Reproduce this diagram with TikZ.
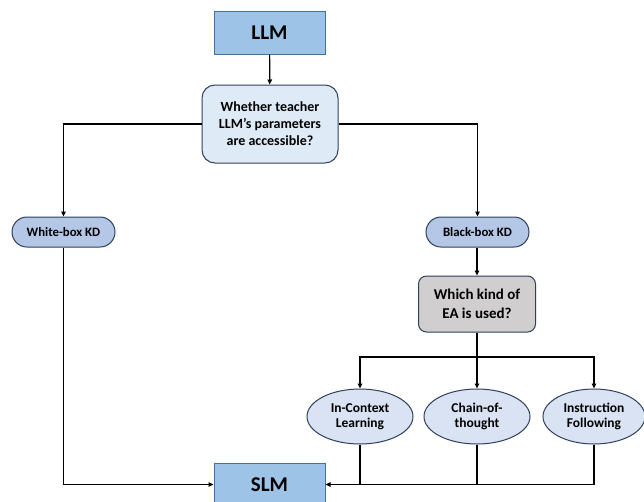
\documentclass[tikz,border=0pt]{standalone}
\usepackage{fontspec}
\setmainfont{Carlito}
\usetikzlibrary{shapes.geometric,arrows.meta}

\definecolor{modelfill}{HTML}{9DC3E6}
\definecolor{modeledge}{HTML}{41719C}
\definecolor{askfill}{HTML}{DEEBF7}
\definecolor{pillfill}{HTML}{B4C7E7}
\definecolor{kindfill}{HTML}{D0CECE}
\definecolor{ellfill}{HTML}{DAE3F3}
\definecolor{navyedge}{HTML}{2E3F5C}

\tikzset{
  model/.style={draw=modeledge, line width=1pt, fill=modelfill, minimum width=111pt,
    minimum height=43pt, font=\bfseries\fontsize{21}{25}\selectfont},
  ask/.style={draw=navyedge, line width=1pt, rounded corners=13pt, minimum width=136pt,
    minimum height=78pt, align=center, font=\bfseries\fontsize{14}{17}\selectfont},
  pill/.style={draw=navyedge, line width=1pt, fill=pillfill, rounded corners=15pt,
    minimum width=103pt, minimum height=30pt, font=\bfseries\fontsize{12.8}{15}\selectfont},
  method/.style={ellipse, draw=navyedge, line width=1pt, fill=ellfill, inner sep=0pt,
    minimum width=106pt, minimum height=55pt, align=center,
    font=\bfseries\fontsize{13.5}{15}\selectfont},
  link/.style={line width=1.2pt, draw=black},
  arr/.style={link, -{Triangle[length=5pt,width=4.5pt]}}
}

\begin{document}
\begin{tikzpicture}[x=1pt,y=-1pt]
  \useasboundingbox (0,0) rectangle (644,501);

  \node[model] (llm) at (269.5,32.5) {LLM};
  \node[ask, fill=askfill] (access) at (270,124) {Whether teacher\\LLM's parameters\\are accessible?};

  \node[pill] (white) at (63.5,232) {White-box KD};
  \node[pill] (black) at (477.5,232) {Black-box KD};

  \node[ask, fill=kindfill, rounded corners=8pt, minimum width=117pt, minimum height=56pt,
    font=\bfseries\fontsize{15}{19}\selectfont] (kind) at (477,304) {Which kind of\\EA is used?};

  \node[method] (icl) at (360,416.5) {In-Context\\Learning};
  \node[method] (cot) at (477,416.5) {Chain-of-\\thought};
  \node[method, minimum width=102pt] (inst) at (594,416.5) {Instruction\\Following};

  \node[model] (slm) at (269.5,484.5) {SLM};

  \coordinate (fork) at (477,357);

  \draw[arr] (llm) -- (access);
  \draw[arr] (access.west) -| (white.north);
  \draw[arr] (access.east) -| (black.north);
  \draw[arr] (black.south -| kind.north) -- (kind.north);
  \draw[link] (kind.south) -- (fork);
  \draw[arr] (fork) -| (icl.north);
  \draw[arr] (fork) -- (cot.north);
  \draw[arr] (fork) -| (inst.north);

  \draw[arr] (white.south) |- (slm.west);
  \draw[arr] (inst.south) |- (slm.east);
  \draw[link] (icl.south) -- (icl.south |- slm.east);
  \draw[link] (cot.south) -- (cot.south |- slm.east);
\end{tikzpicture}
\end{document}
